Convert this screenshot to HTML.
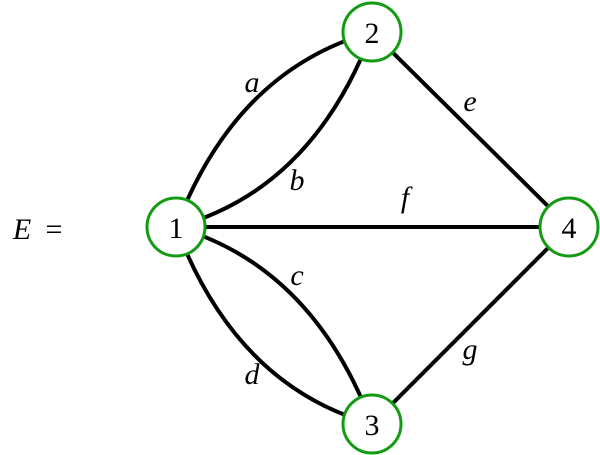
<!DOCTYPE html>
<html><head><style>body{margin:0;background:#fff}</style></head><body>
<svg width="600" height="455" viewBox="0 0 600 455" xmlns="http://www.w3.org/2000/svg" style="display:block">
<g fill="none" stroke="#000" stroke-width="4">
<path d="M176,227 Q236,70 372,32"/>
<path d="M176,227 Q312,190 372,32"/>
<path d="M176,227 Q312,266 372,424"/>
<path d="M176,227 Q236,386 372,424"/>
<path d="M176,227 L569,227"/>
<path d="M372,32 L569,227"/>
<path d="M372,424 L569,227"/>
</g>
<g fill="#fff" stroke="#139c13" stroke-width="3">
<circle cx="176" cy="227" r="29"/>
<circle cx="372" cy="32" r="29"/>
<circle cx="372" cy="424" r="29"/>
<circle cx="569" cy="227" r="29"/>
</g>
<g font-family="Liberation Serif, serif" font-size="30" text-anchor="middle">
<text x="176" y="238">1</text>
<text x="372" y="43">2</text>
<text x="372" y="435">3</text>
<text x="569" y="238">4</text>
<g font-style="italic">
<text x="252" y="92">a</text>
<text x="297" y="190">b</text>
<text x="297" y="285">c</text>
<text x="252" y="384">d</text>
<text x="470" y="111">e</text>
<text x="405" y="207">f</text>
<text x="470" y="359">g</text>
<text x="22" y="239">E</text>
</g>
<text x="54" y="239">=</text>
</g>
</svg>
</body></html>
